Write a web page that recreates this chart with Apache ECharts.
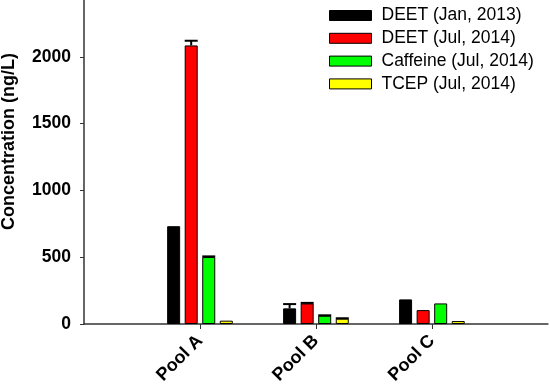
<!DOCTYPE html>
<html>
<head>
<meta charset="utf-8">
<script src="https://cdn.jsdelivr.net/npm/echarts@6/dist/echarts.min.js"></script>
<style>
html,body{margin:0;padding:0;background:#fff;}
#chart{width:550px;height:388px;}
</style>
</head>
<body>
<div id="chart"></div>
<script>
var categories = ['Pool A', 'Pool B', 'Pool C'];
var seriesNames = ['DEET (Jan, 2013)', 'DEET (Jul, 2014)', 'Caffeine (Jul, 2014)', 'TCEP (Jul, 2014)'];
var seriesColors = ['#000000', '#ff0000', '#00ff00', '#ffff00'];
var deetJan2013 = [732, 117, 184];
var deetJul2014 = [2085, 154, 104];
var caffeineJul2014 = [501, 62, 154];
var tcepJul2014 = [25, 40, 22];
var errDeetJan2013 = [0, 32, 0];
var errDeetJul2014 = [35, 4, 0];
var errCaffeineJul2014 = [5, 3, 0];
var errTcepJul2014 = [0, 3, 0];
var yTicks = [0, 500, 1000, 1500, 2000];

var values = [deetJan2013, deetJul2014, caffeineJul2014, tcepJul2014];
var errors = [errDeetJan2013, errDeetJul2014, errCaffeineJul2014, errTcepJul2014];
var axisCats = [''].concat(categories).concat(['']);
var BAR_W = 13, GAP = 0.35;
var FONT = 'Liberation Sans, Arial, sans-serif';

function pad(arr) { return ['-'].concat(arr).concat(['-']); }

var series = [];
values.forEach(function (v, s) {
  series.push({
    name: seriesNames[s], type: 'bar', data: pad(v), barWidth: BAR_W, barGap: (GAP * 100) + '%',
    itemStyle: { color: seriesColors[s], borderColor: '#000', borderWidth: 1 },
    animation: false
  });
});
var errData = [];
values.forEach(function (v, s) {
  v.forEach(function (val, i) {
    if (errors[s][i] > 0) errData.push([i + 1, val, errors[s][i], s]);
  });
});
series.push({
  type: 'custom', data: errData, z: 10, animation: false, silent: true,
  renderItem: function (params, api) {
    var c = api.value(0), val = api.value(1), e = api.value(2), s = api.value(3);
    var step = BAR_W * (1 + GAP);
    var off = (s - 1.5) * step;
    var p0 = api.coord([c, val]);
    var p1 = api.coord([c, val + e]);
    var x = p0[0] + off;
    var st = { stroke: '#000', lineWidth: 2 };
    return { type: 'group', children: [
      { type: 'line', shape: { x1: x, y1: p0[1], x2: x, y2: p1[1] }, style: st },
      { type: 'line', shape: { x1: x - BAR_W / 2, y1: p1[1], x2: x + BAR_W / 2, y2: p1[1] }, style: st }
    ] };
  }
});

var chart = echarts.init(document.getElementById('chart'));
chart.setOption({
  backgroundColor: '#fff',
  animation: false,
  grid: { left: 84, right: 0, top: 0, bottom: 64, containLabel: false },
  legend: {
    data: seriesNames, orient: 'vertical', left: 324, top: 1.5, icon: 'rect',
    itemWidth: 42, itemHeight: 10, itemGap: 4.8,
    itemStyle: { borderColor: '#000', borderWidth: 1 },
    textStyle: { fontFamily: FONT, fontSize: 17.5, color: '#000', lineHeight: 17, padding: [0, 0, 0, 5] }
  },
  xAxis: {
    type: 'category', data: axisCats, boundaryGap: false,
    axisLine: { lineStyle: { color: '#333', width: 1.5 } },
    axisTick: { length: 5, lineStyle: { color: '#333' }, interval: function (i, v) { return v !== ''; } },
    axisLabel: { interval: 0, rotate: 45, margin: 14, fontFamily: FONT, fontWeight: 'bold', fontSize: 18, color: '#000' }
  },
  yAxis: {
    type: 'value', min: 0, max: 2425, interval: 500,
    splitLine: { show: false },
    axisLine: { show: true, lineStyle: { color: '#333', width: 1.5 } },
    axisTick: { show: true, length: 4, lineStyle: { color: '#333' }, customValues: yTicks },
    axisLabel: { margin: 13, fontFamily: FONT, fontWeight: 'bold', fontSize: 17.5, color: '#000', customValues: yTicks,
      formatter: function (v) { return String(v); } }
  },
  graphic: [{
    type: 'text', left: 0, top: 53, rotation: Math.PI / 2,
    style: { text: 'Concentration (ng/L)', fontFamily: FONT, fontWeight: 'bold', fontSize: 18, fill: '#000' }
  }],
  series: series
});
</script>
</body>
</html>
